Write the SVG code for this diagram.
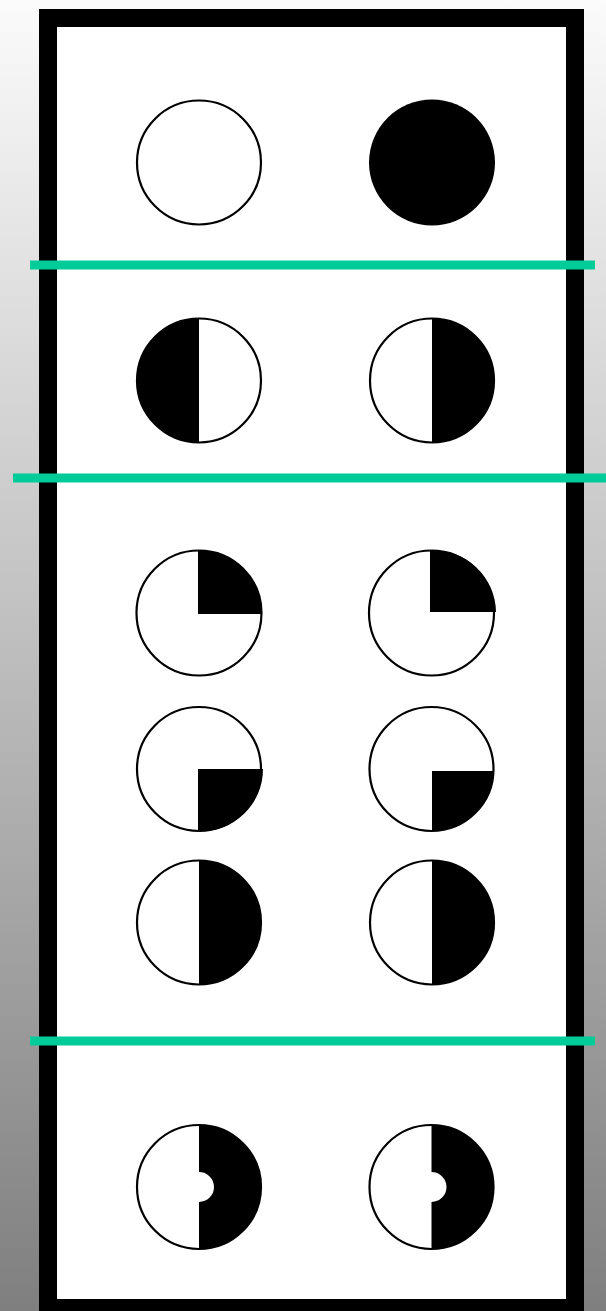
<svg xmlns="http://www.w3.org/2000/svg" width="606" height="1311" viewBox="0 0 606 1311">
  <defs>
    <linearGradient id="bg" x1="0" y1="0" x2="0" y2="1">
      <stop offset="0" stop-color="#fbfbfb"/>
      <stop offset="1" stop-color="#7f7f7f"/>
    </linearGradient>
  </defs>
  <style>
    .ring { fill: #ffffff; stroke: #000000; stroke-width: 2.2; }
    .fill { fill: #000000; stroke: none; }
    .sep { stroke: #00cc99; stroke-width: 9; }
  </style>
  <rect x="0" y="0" width="606" height="1311" fill="url(#bg)"/>
  <rect id="frame" x="48" y="18" width="527" height="1290" fill="#ffffff" stroke="#000000" stroke-width="18"/>

  <g id="connectors">
    <line class="sep" x1="30" y1="265" x2="595" y2="265"/>
    <line class="sep" x1="13" y1="478" x2="606" y2="478"/>
    <line class="sep" x1="30" y1="1041" x2="595" y2="1041"/>
  </g>

  <g id="n1a"><circle class="ring" cx="199" cy="162.5" r="62"/></g>
  <g id="n1b"><circle class="fill" cx="432" cy="162.5" r="63"/></g>

  <g id="n2a">
    <circle class="ring" cx="199" cy="380.5" r="62"/>
    <path class="fill" d="M199,318.5 A62,62 0 0 0 199,442.5 Z"/>
  </g>
  <g id="n2b">
    <circle class="ring" cx="432" cy="380.5" r="62"/>
    <path class="fill" d="M432,318.5 A62,62 0 0 1 432,442.5 Z"/>
  </g>

  <g id="n3a">
    <circle class="ring" cx="199" cy="613" r="62.5"/>
    <path class="fill" d="M198,614 L198,550.5 A62.5,62.5 0 0 1 262,614 Z"/>
  </g>
  <g id="n3b">
    <circle class="ring" cx="431.5" cy="613" r="62.5"/>
    <path class="fill" d="M430,612 L430,550.5 A62.5,62.5 0 0 1 496,612 Z"/>
  </g>

  <g id="n4a">
    <circle class="ring" cx="199" cy="769" r="62"/>
    <path class="fill" d="M198,769 L263,769 A62,62 0 0 1 198,831 Z"/>
  </g>
  <g id="n4b">
    <circle class="ring" cx="431.5" cy="769" r="62"/>
    <path class="fill" d="M432,771 L494,771 A62,62 0 0 1 432,831 Z"/>
  </g>

  <g id="n5a">
    <circle class="ring" cx="199" cy="922.5" r="62"/>
    <path class="fill" d="M199,860.5 A62,62 0 0 1 199,984.5 Z"/>
  </g>
  <g id="n5b">
    <circle class="ring" cx="432" cy="922.5" r="62"/>
    <path class="fill" d="M432,860.5 A62,62 0 0 1 432,984.5 Z"/>
  </g>

  <g id="n6a">
    <circle class="ring" cx="199" cy="1187" r="62"/>
    <path class="fill" d="M199,1125 A62,62 0 0 1 199,1249 L199,1202 A15,15 0 0 0 199,1172 Z"/>
  </g>
  <g id="n6b">
    <circle class="ring" cx="431.5" cy="1187" r="62"/>
    <path class="fill" d="M431.5,1125 A62,62 0 0 1 431.5,1249 L431.5,1202 A15,15 0 0 0 431.5,1172 Z"/>
  </g>
</svg>
